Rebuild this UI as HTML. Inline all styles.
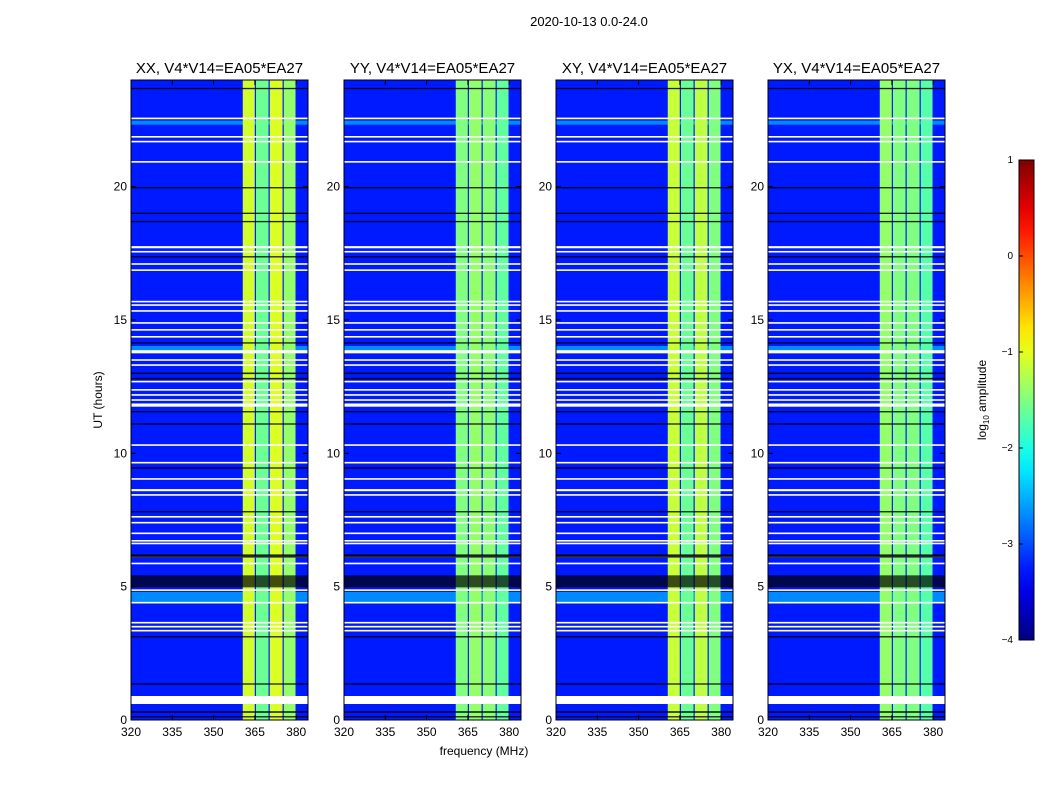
<!DOCTYPE html>
<html><head><meta charset="utf-8"><style>
body{margin:0;background:#fff;width:1050px;height:800px;overflow:hidden;font-family:"Liberation Sans","DejaVu Sans",sans-serif}
svg text{font-family:"Liberation Sans","DejaVu Sans",sans-serif}
</style></head><body>
<svg id="fig" width="1050" height="800" xmlns="http://www.w3.org/2000/svg">
<text x="589" y="26" font-size="13" text-anchor="middle">2020-10-13 0.0-24.0</text>
<text x="484" y="755" font-size="12" text-anchor="middle">frequency (MHz)</text>
<text transform="translate(102,400) rotate(-90)" font-size="12" text-anchor="middle">UT (hours)</text>
<text transform="translate(986,400) rotate(-90)" font-size="12" text-anchor="middle">log<tspan font-size="8" dy="3">10</tspan><tspan dy="-3"> amplitude</tspan></text>
</svg>
<script>
const panelTitles=["XX, V4*V14=EA05*EA27","YY, V4*V14=EA05*EA27","XY, V4*V14=EA05*EA27","YX, V4*V14=EA05*EA27"];
const bandEdges=[360.6,365.4,370.4,375.5,380.2];
const bandValues=[[-1.1,-1.6,-1.05,-1.4],[-1.5,-1.4,-1.45,-1.65],[-1.15,-1.6,-1.2,-1.5],[-1.4,-1.5,-1.5,-1.7]];
const backgroundValue=-3.25;
const whiteRowTimes=[22.56,21.87,21.69,20.93,17.73,17.56,17.1,16.87,15.69,15.56,15.34,14.89,14.63,14.37,13.81,13.5,13.31,12.69,12.38,12.19,12.0,11.81,10.31,9.65,9.04,8.62,8.44,7.62,7.4,7.0,6.72,6.62,6.12,5.87,4.87,4.4,3.65,3.5,3.35,0.75];
const whiteRowDur=[0.06,0.06,0.06,0.06,0.08,0.06,0.06,0.06,0.06,0.06,0.06,0.06,0.06,0.06,0.12,0.06,0.06,0.06,0.06,0.06,0.06,0.12,0.06,0.06,0.06,0.08,0.06,0.06,0.06,0.06,0.06,0.06,0.06,0.06,0.06,0.06,0.06,0.06,0.06,0.3];
const blackRowTimes=[23.68,19.96,19.0,18.69,17.37,14.14,13.0,12.8,11.56,11.1,9.45,7.81,6.15,5.2,3.12,1.35,0.3,0.12];
const blackRowDur=[0.05,0.05,0.05,0.05,0.05,0.05,0.06,0.06,0.05,0.05,0.05,0.05,0.12,0.45,0.05,0.05,0.06,0.05];
const cyanRowTimes=[4.6,13.95,22.4];
const cyanRowDur=[0.4,0.15,0.15];
const xTicks=[320,335,350,365,380];
const yTicks=[0,5,10,15,20];
const cbTicks=[1,0,-1,-2,-3,-4];
const panelLefts=[131,344,556,768];
const PW=177,PT=80,PB=720;
const fMin=320,fMax=384.3,tMin=0,tMax=24,vMin=-4,vMax=1;
const NS="http://www.w3.org/2000/svg";
const svg=document.getElementById('fig');
function jet(v){let t=(v-vMin)/(vMax-vMin);t=Math.max(0,Math.min(1,t));
 const c=x=>Math.round(255*Math.max(0,Math.min(1,x)));
 return `rgb(${c(1.5-Math.abs(4*t-3))},${c(1.5-Math.abs(4*t-2))},${c(1.5-Math.abs(4*t-1))})`;}
function el(tag,attrs){const e=document.createElementNS(NS,tag);for(const k in attrs)e.setAttribute(k,attrs[k]);return e;}
const yS=t=>PB-(t-tMin)/(tMax-tMin)*(PB-PT);
panelLefts.forEach((L,p)=>{
 const xS=f=>L+(f-fMin)/(fMax-fMin)*PW;
 const g=el('g',{});
 
 
 svg.appendChild(g);
 const bg=el('rect',{x:L,y:PT,width:PW,height:PB-PT,fill:jet(backgroundValue)});
 
 
 g.appendChild(bg);
 cyanRowTimes.forEach((t,i)=>{const r=el('rect',{x:L,y:yS(t+cyanRowDur[i]/2),width:PW,height:cyanRowDur[i]/(tMax-tMin)*(PB-PT),fill:jet(-2.7)});
  
  
  g.appendChild(r);});
 for(let i=0;i<4;i++){const r=el('rect',{x:xS(bandEdges[i]),y:PT,width:xS(bandEdges[i+1])-xS(bandEdges[i])-1.2,height:PB-PT,fill:jet(bandValues[p][i])});
  
  
  g.appendChild(r);}
 whiteRowTimes.forEach((t,i)=>{const h=Math.max(1.5,whiteRowDur[i]/(tMax-tMin)*(PB-PT));const r=el('rect',{x:L,y:yS(t)-h/2,width:PW,height:h,fill:'#fff'});
  
  
  g.appendChild(r);});
 blackRowTimes.forEach((t,i)=>{const h=Math.max(1.2,blackRowDur[i]/(tMax-tMin)*(PB-PT));const r=el('rect',{x:L,y:yS(t)-h/2,width:PW,height:h,fill:'#000',opacity:h>5?0.7:0.85});
  
  
  g.appendChild(r);});
 const fr=el('rect',{x:L,y:PT,width:PW,height:PB-PT,fill:'none',stroke:'#000','stroke-width':1});
 
 
 g.appendChild(fr);
 const tt=el('text',{x:L+PW/2,y:73,'font-size':15,'text-anchor':'middle'});tt.textContent=panelTitles[p];
 
 
 g.appendChild(tt);
 xTicks.forEach(f=>{const x=xS(f);
  g.appendChild(el('line',{x1:x,x2:x,y1:PB,y2:PB-5,stroke:'#000'}));
  g.appendChild(el('line',{x1:x,x2:x,y1:PT,y2:PT+5,stroke:'#000'}));
  const t=el('text',{x:x,y:PB+16,'font-size':12,'text-anchor':'middle'});t.textContent=f;
  
  
  g.appendChild(t);});
 yTicks.forEach(v=>{const y=yS(v);
  g.appendChild(el('line',{x1:L,x2:L+5,y1:y,y2:y,stroke:'#000'}));
  g.appendChild(el('line',{x1:L+PW,x2:L+PW-5,y1:y,y2:y,stroke:'#000'}));
  const t=el('text',{x:L-4,y:y+4,'font-size':12,'text-anchor':'end'});t.textContent=v;
  
  
  g.appendChild(t);});
});
const CX=1019,CW=15,CT=160,CB=640;
const cbY=v=>CB-(v-vMin)/(vMax-vMin)*(CB-CT);
const defs=el('defs',{});const lg=el('linearGradient',{id:'jetg',x1:0,y1:1,x2:0,y2:0});
for(let i=0;i<=20;i++){const v=vMin+(vMax-vMin)*i/20;lg.appendChild(el('stop',{offset:i/20,'stop-color':jet(v)}));}
defs.appendChild(lg);svg.appendChild(defs);
const cb=el('rect',{x:CX,y:CT,width:CW,height:CB-CT,fill:'url(#jetg)',stroke:'#000'});


svg.appendChild(cb);
cbTicks.forEach(v=>{const y=cbY(v);
 svg.appendChild(el('line',{x1:CX,x2:CX+4,y1:y,y2:y,stroke:'#000'}));
 const t=el('text',{x:1013,y:y+3,'font-size':10,'text-anchor':'end'});t.textContent=v<0?'\u2212'+(-v):v;
 
 
 svg.appendChild(t);});
</script>
</body></html>
